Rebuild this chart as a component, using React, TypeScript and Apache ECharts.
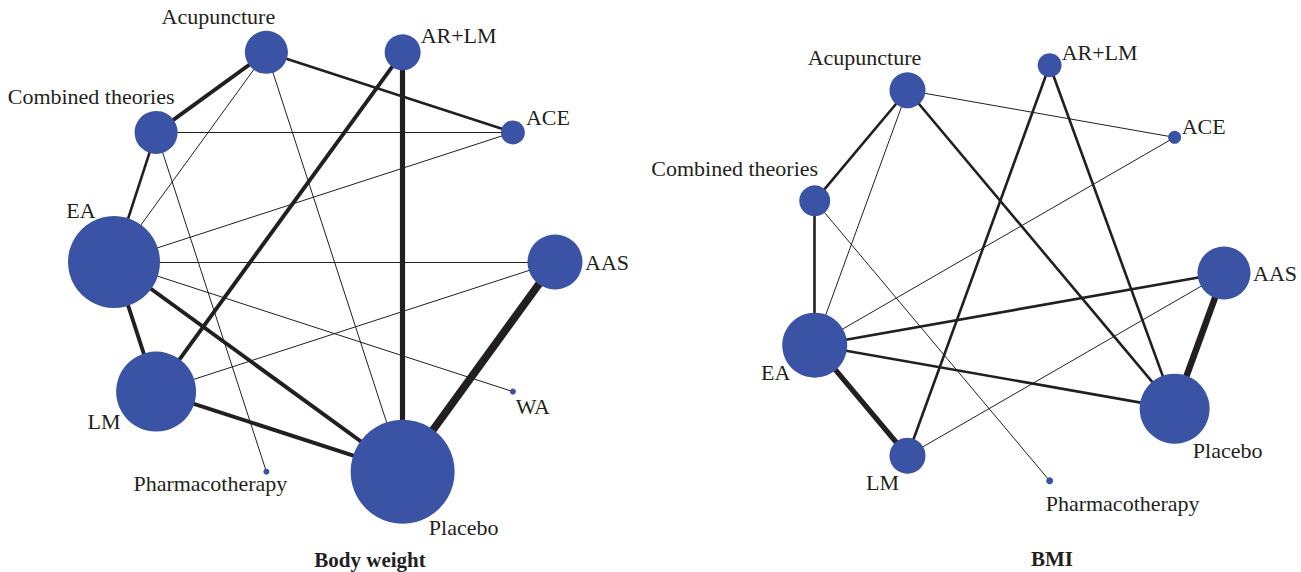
import React, { useEffect, useRef } from 'react';
import * as echarts from 'echarts';

// Treatments of each network, listed clockwise starting from the 3 o'clock slot
const bwNodes = ['AAS', 'WA', 'Placebo', 'Pharmacotherapy', 'LM', 'EA', 'Combined theories', 'Acupuncture', 'AR+LM', 'ACE'];
const bwNodeSizes = [55, 6, 104, 6, 80, 92, 43, 43, 36, 24];
// [treatment A, treatment B, number of direct comparisons]
const bwEdges: [string, string, number][] = [
  ['Acupuncture', 'Combined theories', 3],
  ['Acupuncture', 'ACE', 2],
  ['Acupuncture', 'EA', 1],
  ['Acupuncture', 'Placebo', 1],
  ['AR+LM', 'Placebo', 4],
  ['AR+LM', 'LM', 3],
  ['Combined theories', 'ACE', 1],
  ['Combined theories', 'EA', 2],
  ['Combined theories', 'Pharmacotherapy', 1],
  ['EA', 'ACE', 1],
  ['EA', 'AAS', 1],
  ['EA', 'LM', 3],
  ['EA', 'Placebo', 3],
  ['EA', 'WA', 1],
  ['LM', 'AAS', 1],
  ['LM', 'Placebo', 3],
  ['AAS', 'Placebo', 6],
];

const bmiNodes = ['AAS', 'Placebo', 'Pharmacotherapy', 'LM', 'EA', 'Combined theories', 'Acupuncture', 'AR+LM', 'ACE'];
const bmiNodeSizes = [53, 70, 7, 36, 65, 31, 36, 24, 13];
const bmiEdges: [string, string, number][] = [
  ['Acupuncture', 'Combined theories', 2],
  ['Acupuncture', 'ACE', 1],
  ['Acupuncture', 'EA', 1],
  ['Acupuncture', 'Placebo', 2],
  ['AR+LM', 'LM', 2],
  ['AR+LM', 'Placebo', 2],
  ['ACE', 'EA', 1],
  ['Combined theories', 'EA', 2],
  ['Combined theories', 'Pharmacotherapy', 1],
  ['EA', 'AAS', 2],
  ['EA', 'Placebo', 2],
  ['EA', 'LM', 4],
  ['LM', 'AAS', 1],
  ['AAS', 'Placebo', 5],
];

const panelTitles = ['Body weight', 'BMI'];

// Label placement around each node (pixel offsets from the node centre)
const bwLabelOffsets: Record<string, [number, number]> = {
  Acupuncture: [-48, -36],
  'AR+LM': [56, -17],
  ACE: [35, -15],
  'Combined theories': [-65, -36],
  EA: [-33, -52],
  AAS: [52, 0],
  LM: [-52, 30],
  WA: [20, 15],
  Pharmacotherapy: [-56, 12],
  Placebo: [61, 56],
};
const bmiLabelOffsets: Record<string, [number, number]> = {
  Acupuncture: [-43, -33],
  'AR+LM': [50, -13],
  ACE: [29, -11],
  'Combined theories': [-80, -32],
  AAS: [51, 0],
  EA: [-39, 27],
  Placebo: [53, 42],
  LM: [-25, 27],
  Pharmacotherapy: [73, 23],
};

const NODE_COLOR = '#3A53A4';
const INK = '#231F20';
const FONT = 'Liberation Serif';

const edgeWidth = (n: number) => (n === 1 ? 1 : n * 1.3);

function buildSeries(
  names: string[],
  sizes: number[],
  edges: [string, string, number][],
  offsets: Record<string, [number, number]>,
  polarIndex: number
) {
  return {
    type: 'graph',
    coordinateSystem: 'polar',
    polarIndex,
    silent: true,
    symbol: 'circle',
    edgeSymbol: ['none', 'none'],
    itemStyle: { color: NODE_COLOR },
    lineStyle: { color: INK, opacity: 1, curveness: 0 },
    emphasis: { disabled: true },
    label: {
      show: true,
      position: 'inside',
      align: 'center',
      verticalAlign: 'middle',
      color: INK,
      fontFamily: FONT,
      fontSize: 22,
      fontWeight: 'normal',
      formatter: '{b}',
    },
    data: names.map((name, i) => ({
      name,
      value: [1, i],
      symbolSize: sizes[i],
      label: {
        offset: offsets[name],
        fontFamily: FONT,
      },
    })),
    links: edges.map(([source, target, n]) => ({
      source,
      target,
      value: n,
      lineStyle: { width: edgeWidth(n), color: INK, opacity: 1 },
    })),
  };
}

const hiddenAxis = {
  show: false,
  axisLine: { show: false },
  axisTick: { show: false },
  axisLabel: { show: false },
  splitLine: { show: false },
};

export default function App() {
  const ref = useRef<HTMLDivElement>(null);

  useEffect(() => {
    if (!ref.current) return;
    const chart = echarts.init(ref.current, null, { renderer: 'svg' });
    chart.setOption({
      animation: false,
      backgroundColor: '#ffffff',
      textStyle: { fontFamily: FONT },
      polar: [
        { center: [334.5, 262], radius: 220.5 },
        { center: [1013, 273], radius: 211 },
      ],
      angleAxis: [
        { ...hiddenAxis, polarIndex: 0, type: 'category', data: bwNodes, boundaryGap: false, startAngle: 0, clockwise: true },
        { ...hiddenAxis, polarIndex: 1, type: 'category', data: bmiNodes, boundaryGap: false, startAngle: 0, clockwise: true },
      ],
      radiusAxis: [
        { ...hiddenAxis, polarIndex: 0, type: 'value', min: 0, max: 1 },
        { ...hiddenAxis, polarIndex: 1, type: 'value', min: 0, max: 1 },
      ],
      graphic: [
        {
          type: 'text',
          x: 370,
          y: 560,
          style: {
            text: panelTitles[0],
            fill: INK,
            font: `bold 21px "${FONT}"`,
            align: 'center',
            verticalAlign: 'middle',
            textAlign: 'center',
            textVerticalAlign: 'middle',
          },
        },
        {
          type: 'text',
          x: 1052,
          y: 559,
          style: {
            text: panelTitles[1],
            fill: INK,
            font: `bold 21px "${FONT}"`,
            align: 'center',
            verticalAlign: 'middle',
            textAlign: 'center',
            textVerticalAlign: 'middle',
          },
        },
      ],
      series: [
        buildSeries(bwNodes, bwNodeSizes, bwEdges, bwLabelOffsets, 0),
        buildSeries(bmiNodes, bmiNodeSizes, bmiEdges, bmiLabelOffsets, 1),
      ],
    });
    return () => chart.dispose();
  }, []);

  return (
    <div
      ref={ref}
      style={{ position: 'absolute', left: 0, top: 0, width: 1301, height: 572 }}
    />
  );
}
